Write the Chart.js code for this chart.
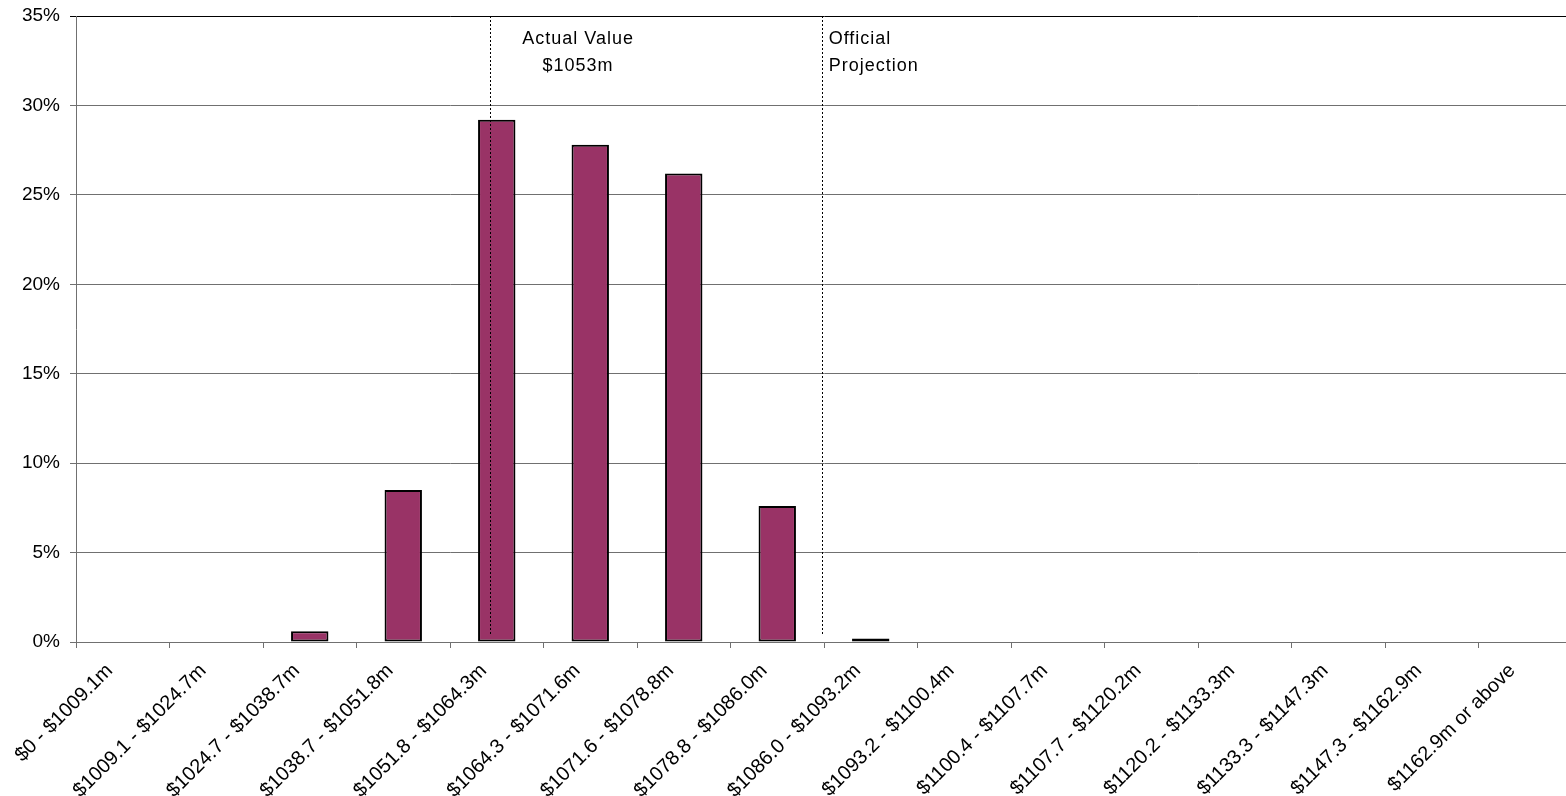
<!DOCTYPE html>
<html>
<head>
<meta charset="utf-8">
<script src="https://cdn.jsdelivr.net/npm/chart.js@4"></script>
<style>
  html, body { margin: 0; padding: 0; background: #fff; overflow: hidden; }
  #wrap { width: 1580px; height: 796px; position: relative; }
</style>
</head>
<body>
<div id="wrap"><canvas id="c"></canvas></div>
<script>
const categories = [
  "$0 - $1009.1m", "$1009.1 - $1024.7m", "$1024.7 - $1038.7m", "$1038.7 - $1051.8m",
  "$1051.8 - $1064.3m", "$1064.3 - $1071.6m", "$1071.6 - $1078.8m", "$1078.8 - $1086.0m",
  "$1086.0 - $1093.2m", "$1093.2 - $1100.4m", "$1100.4 - $1107.7m", "$1107.7 - $1120.2m",
  "$1120.2 - $1133.3m", "$1133.3 - $1147.3m", "$1147.3 - $1162.9m", "$1162.9m or above"
];
const probabilities = [0, 0, 0.6, 8.5, 29.2, 27.8, 26.2, 7.6, 0.2, 0, 0, 0, 0, 0, 0, 0];
const yTicks = [0, 5, 10, 15, 20, 25, 30, 35];

// reference lines (positions in category-index units) and their labels
const markerLines = [
  { name: "Actual Value", at: 3.93 },
  { name: "Official Projection", at: 7.48 }
];
const markerLabels = [
  { lines: ["Actual Value", "$1053m"], at: 4.87, align: "center" },
  { lines: ["Official", "Projection"], at: 7.55, align: "left" }
];
const labelLineValues = [33.43, 31.92];

const FONT = "'Liberation Sans', Arial, sans-serif";

const markerPlugin = {
  id: "markers",
  afterDatasetsDraw(chart) {
    const ctx = chart.ctx;
    const xs = chart.scales.x, ys = chart.scales.y;
    const area = chart.chartArea;
    ctx.save();
    ctx.strokeStyle = "#000";
    ctx.lineWidth = 1;
    ctx.setLineDash([2, 2]);
    markerLines.forEach(m => {
      const x = Math.round(xs.getPixelForValue(m.at)) + 0.5;
      ctx.beginPath();
      ctx.moveTo(x, area.top);
      ctx.lineTo(x, ys.getPixelForValue(0.35));
      ctx.stroke();
    });
    ctx.setLineDash([]);
    ctx.fillStyle = "#000";
    ctx.font = "18px " + FONT;
    ctx.textBaseline = "alphabetic";
    try { ctx.letterSpacing = "1px"; } catch (e) {}
    markerLabels.forEach(l => {
      ctx.textAlign = l.align;
      const x = xs.getPixelForValue(l.at);
      l.lines.forEach((t, i) => {
        ctx.fillText(t, x, ys.getPixelForValue(labelLineValues[i]));
      });
    });
    ctx.restore();
  }
};

new Chart(document.getElementById("c"), {
  type: "bar",
  data: {
    labels: categories,
    datasets: [{
      data: probabilities,
      backgroundColor: "#993366",
      borderColor: "#000",
      borderWidth: 2,
      borderSkipped: false,
      barPercentage: 0.4,
      categoryPercentage: 1.0
    }]
  },
  options: {
    responsive: true,
    maintainAspectRatio: false,
    animation: false,
    layout: { padding: { top: 16, right: 8, left: 0, bottom: 0 } },
    plugins: { legend: { display: false }, tooltip: { enabled: false } },
    scales: {
      x: {
        offset: true,
        grid: {
          offset: true,
          drawOnChartArea: false,
          drawTicks: true,
          tickLength: 6,
          color: "#707070",
          lineWidth: 1
        },
        border: { color: "#707070", width: 1 },
        ticks: {
          autoSkip: false,
          maxRotation: 45,
          minRotation: 45,
          padding: 11,
          labelOffset: -13,
          color: "#000",
          font: { family: FONT, size: 20 }
        },
        afterFit(scale) {
          scale.height = 154;
          scale.paddingLeft = 0; scale.paddingRight = 0;
        }
      },
      y: {
        min: 0,
        max: 35,
        afterBuildTicks(scale) { scale.ticks = yTicks.map(v => ({ value: v })); },
        grid: {
          color: (c) => (c.tick && c.tick.value === 35 ? "#000" : "#707070"),
          tickLength: 6,
          lineWidth: 1
        },
        border: { color: "#707070", width: 1 },
        ticks: {
          padding: 10,
          color: "#000",
          font: { family: FONT, size: 19 },
          callback: (v) => v + "%"
        },
        afterFit(scale) {
          scale.width = 76;
          scale.paddingTop = 0; scale.paddingBottom = 0;
        }
      }
    }
  },
  plugins: [markerPlugin]
});
</script>
</body>
</html>
